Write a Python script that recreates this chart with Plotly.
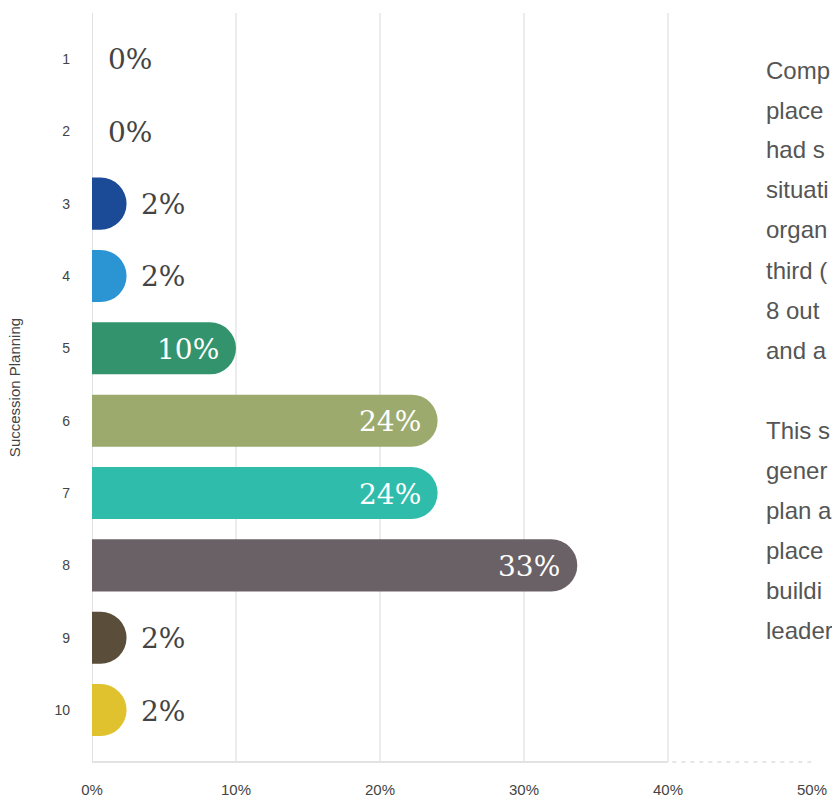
import plotly.graph_objects as go

# ---- data ----
categories = [1, 2, 3, 4, 5, 6, 7, 8, 9, 10]
values = [0, 0, 2.4, 2.4, 10, 24, 24, 33.7, 2.4, 2.4]
labels = ["0%", "0%", "2%", "2%", "10%", "24%", "24%", "33%", "2%", "2%"]
colors = ["#1b4a97", "#1b4a97", "#1b4a97", "#2b94d3", "#33936d",
          "#9caa6e", "#2fbcab", "#6a6167", "#5a4e3a", "#dfc22d"]
x_ticks = [0, 10, 20, 30, 40, 50]
x_tick_text = ["0%", "10%", "20%", "30%", "40%", "50%"]
grid_vals = [10, 20, 30, 40]
axis_title = "Succession Planning"
side_text = [
    "Comp", "place", "had s", "situati", "organ",
    "third (", "8 out", "and a", "",
    "This s", "gener", "plan a", "place", "buildi", "leader",
]

W, H = 832, 798
ML, MR, MT, MB = 92, 20, 13, 36

fig = go.Figure()
fig.add_trace(go.Bar(
    x=values, y=categories, orientation="h",
    marker=dict(color=colors, line=dict(width=0), cornerradius=26),
    width=0.72, hoverinfo="skip",
))

annotations = []
for v, lab, c in zip(values, labels, categories):
    inside = v >= 8
    annotations.append(dict(
        x=v, y=c, xref="x", yref="y", text=lab, showarrow=False,
        xanchor="right" if inside else "left",
        xshift=-15 if inside else (12 if v > 0 else 14),
        yshift=-1,
        font=dict(family="DejaVu Serif, Liberation Serif, serif", size=28,
                  color="#ffffff" if inside else "#444444"),
    ))

# side text lines
plot_w = W - ML - MR
plot_h = H - MT - MB
line_y0 = 70
for i, t in enumerate(side_text):
    if not t:
        continue
    ypix = line_y0 + i * 40
    annotations.append(dict(
        x=(764 - ML) / plot_w, y=1 - (ypix - MT) / plot_h,
        xref="paper", yref="paper", text=t, showarrow=False,
        xanchor="left", yanchor="middle",
        font=dict(family="Liberation Sans, Arial, sans-serif", size=24, color="#555555"),
    ))

shapes = []
for g in grid_vals:
    shapes.append(dict(type="line", xref="x", yref="paper", x0=g, x1=g, y0=0, y1=1,
                       line=dict(color="#e6e6e6", width=1.5), layer="below"))
shapes.append(dict(type="line", xref="x", yref="paper", x0=0, x1=0, y0=0, y1=1,
                   line=dict(color="#e2e2e2", width=2), layer="below"))
shapes.append(dict(type="line", xref="x", yref="paper", x0=0, x1=40, y0=0, y1=0,
                   line=dict(color="#e2e2e2", width=2), layer="below"))
shapes.append(dict(type="line", xref="x", yref="paper", x0=40.3, x1=50.3, y0=0, y1=0,
                   line=dict(color="#dedede", width=1.5, dash="4px,5px"), layer="below"))

fig.update_layout(
    width=W, height=H,
    margin=dict(l=ML, r=MR, t=MT, b=MB),
    paper_bgcolor="white", plot_bgcolor="white",
    showlegend=False,
    annotations=annotations, shapes=shapes,
    xaxis=dict(range=[0, 50], tickvals=x_ticks, ticktext=x_tick_text,
               showgrid=False, zeroline=False, showline=False, automargin=False,
               ticks="", ticklabelstandoff=17,
               tickfont=dict(family="Liberation Sans, Arial, sans-serif", size=15, color="#444444")),
    yaxis=dict(range=[10.718, 0.365], tickvals=categories,
               ticktext=[str(c) for c in categories],
               showgrid=False, zeroline=False, showline=False, automargin=False,
               ticks="", ticklabelstandoff=21,
               tickfont=dict(family="Liberation Sans, Arial, sans-serif", size=14, color="#444444"),
               title=dict(text=axis_title, standoff=30,
                          font=dict(family="Liberation Sans, Arial, sans-serif", size=15, color="#444444"))),
)

fig.write_html("out.html", config={"displayModeBar": False},
               post_script="document.body.style.margin='0';document.body.style.overflow='hidden';")
